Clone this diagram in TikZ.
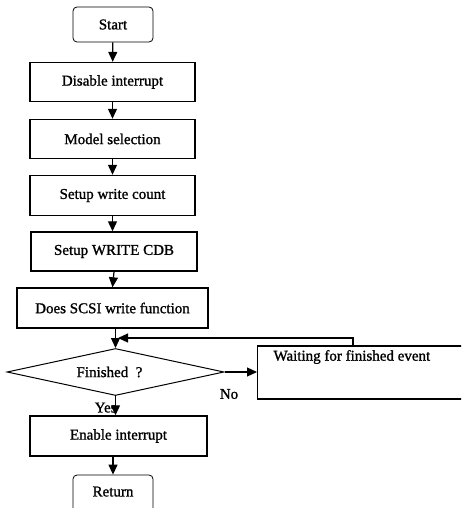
\documentclass[tikz,border=0pt]{standalone}
\usepackage{fontspec}
\setmainfont{Liberation Serif}[BoldFont={Liberation Serif},BoldFeatures={FakeBold=1.2}]
\usetikzlibrary{shapes.geometric,arrows.meta}
\begin{document}
\begin{tikzpicture}[x=1pt,y=-1pt,
  every node/.style={font=\fontsize{15}{17}\selectfont\bfseries},
  proc/.style={draw,line width=1.4pt,inner sep=0pt,minimum height=39pt},
  term/.style={draw,line width=0.8pt,rounded corners=4pt,inner sep=0pt,minimum width=80pt,minimum height=35pt},
  decide/.style={draw,line width=1pt,diamond,aspect=5,inner sep=0pt,minimum width=217pt,minimum height=47pt},
  flow/.style={line width=1.2pt,-{Triangle[length=10pt,width=9pt]}}]
\useasboundingbox (0,0) rectangle (461,508);
\clip (0,0) rectangle (461,508);

% main column of steps
\node[term] (start) at (113,24.5) {Start};
\node[proc,minimum width=165pt] (dis) at (112.5,82) {Disable interrupt};
\node[proc,minimum width=165pt] (model) at (112.5,139) {Model selection};
\node[proc,minimum width=165pt,minimum height=40pt] (count) at (112.5,195.5) {Setup write count};
\node[proc,minimum width=166pt] (cdb) at (114,251.5) {Setup WRITE CDB};
\node[proc,minimum width=191pt,minimum height=40pt] (scsi) at (112.5,308) {Does SCSI write function};
\node[decide] (fin) at (115.5,372) {\hspace*{-12pt}Finished\ \ ?};
\node[proc,minimum width=177pt,minimum height=40pt] (en) at (118.5,436) {Enable interrupt};
\node[term,minimum height=40pt] (ret) at (113,495) {\raisebox{7pt}{Return}};

% waiting box on the right
\node[draw,line width=1.4pt,minimum width=240pt,minimum height=53pt,inner sep=0pt,anchor=west] (wait) at (257,372.5) {};
\node[anchor=west] (waittext) at (270,357) {Waiting for finished event};

% connectors
\draw[flow] (start) -- (dis);
\draw[flow] (dis) -- (model);
\draw[flow] (model) -- (count);
\draw[flow] (count.south) -- (count.south|-cdb.north);
\draw[flow] (cdb.south) -- ([xshift=-1.5pt]cdb.south|-scsi.north);
\draw[flow] (scsi.south-|fin.north) -- (fin.north);
\draw[flow] (fin.east) -- (fin.east-|wait.west);
\node (no) at (229,394) {No};
\draw[flow] (fin.south) -- (fin.south|-en.north) node[pos=0.6,left=-5pt] (yes) {Yes};
\draw[flow] (en.south-|ret.north) -- (ret.north);

% return path from the waiting box
\coordinate (loopup) at (353,338);
\coordinate (loopend) at (118,338);
\draw[flow] (wait.north-|loopup) -- (loopup) -- (loopend);
\end{tikzpicture}
\end{document}
